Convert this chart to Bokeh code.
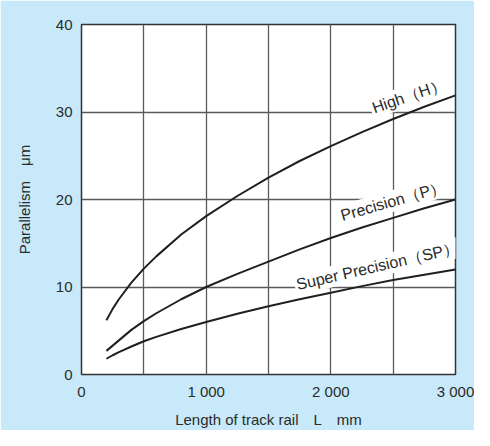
import math
from bokeh.plotting import figure
from bokeh.models import Range1d, FixedTicker, ColumnDataSource
from bokeh.core.properties import value
from bokeh.embed import file_html
from bokeh.resources import INLINE

# ---- data ----
length_mm = [200, 250, 300, 400, 500, 600, 800, 1000, 1250, 1500, 1750, 2000, 2250, 2500, 2750, 3000]
high_h = [6.2, 7.5, 8.6, 10.5, 12.1, 13.5, 16.0, 18.1, 20.4, 22.5, 24.4, 26.1, 27.7, 29.2, 30.6, 31.9]
precision_p = [2.7, 3.3, 3.9, 5.1, 6.1, 7.0, 8.6, 10.0, 11.5, 12.9, 14.3, 15.6, 16.8, 17.9, 19.0, 20.0]
super_precision_sp = [1.8, 2.2, 2.55, 3.2, 3.8, 4.3, 5.2, 6.0, 6.95, 7.8, 8.6, 9.35, 10.1, 10.8, 11.4, 12.0]

series_labels = ["High（H）", "Precision（P）", "Super Precision（SP）"]
x_ticks = [0, 1000, 2000, 3000]
x_tick_labels = ["0", "1 000", "2 000", "3 000"]
y_ticks = [0, 10, 20, 30, 40]
x_grid = [500, 1000, 1500, 2000, 2500]

BG = "#c8e9f9"
TXT = "#2b2b2b"
FONT = "Liberation Sans"

p = figure(width=474, height=430, output_backend="svg", toolbar_location=None,
           x_range=Range1d(0, 3000), y_range=Range1d(0, 40),
           min_border_left=81, min_border_right=19, min_border_top=24, min_border_bottom=52)
p.background_fill_color = "white"
p.border_fill_color = BG
p.outline_line_color = "#333333"
p.outline_line_width = 1.5

# axes
p.xaxis.ticker = FixedTicker(ticks=x_ticks)
p.xaxis.major_label_overrides = dict(zip(x_ticks, x_tick_labels))
p.yaxis.ticker = FixedTicker(ticks=y_ticks)
for ax in (p.xaxis, p.yaxis):
    ax.axis_line_color = None
    ax.major_tick_line_color = None
    ax.minor_tick_line_color = None
    ax.major_tick_in = 0
    ax.major_tick_out = 0
    ax.major_label_text_font = FONT
    ax.major_label_text_font_size = "15px"
    ax.major_label_text_color = TXT
    ax.axis_label_text_font = FONT
    ax.axis_label_text_font_size = "15px"
    ax.axis_label_text_color = TXT
    ax.axis_label_text_font_style = "normal"
    ax.major_label_standoff = 9
p.xaxis.major_label_standoff = 8
p.xaxis.axis_label = "Length of track rail\u2003L\u2003mm"
p.yaxis.axis_label = "Parallelism\u2003μm"
p.xaxis.axis_label_standoff = 8
p.yaxis.axis_label_standoff = 20

# grid
p.xgrid.ticker = FixedTicker(ticks=x_grid)
p.ygrid.ticker = FixedTicker(ticks=y_ticks)
for g in (p.xgrid, p.ygrid):
    g.grid_line_color = "#5a5a5a"
    g.grid_line_width = 1.3

# labels (white boxes mask grid lines), placed next to the curves
lab_src = ColumnDataSource(dict(
    x=[(length_mm[13] + length_mm[14]) / 2, length_mm[13], (length_mm[12] + length_mm[13]) / 2],
    y=[(high_h[13] + high_h[14]) / 2, precision_p[13], (super_precision_sp[12] + super_precision_sp[13]) / 2],
    text=series_labels,
    angle=[math.radians(19), math.radians(16), math.radians(13)],
))
p.text(x="x", y="y", text="text", angle="angle", source=lab_src,
       text_align="center", text_baseline="middle", y_offset=-17,
       text_font=value(FONT), text_font_size="16px", text_color=TXT,
       background_fill_color="white", padding=2)

# curves
for ys in (high_h, precision_p, super_precision_sp):
    p.line(length_mm, ys, line_color="#231f20", line_width=2)

open("out.html", "w").write(file_html(p, INLINE))
